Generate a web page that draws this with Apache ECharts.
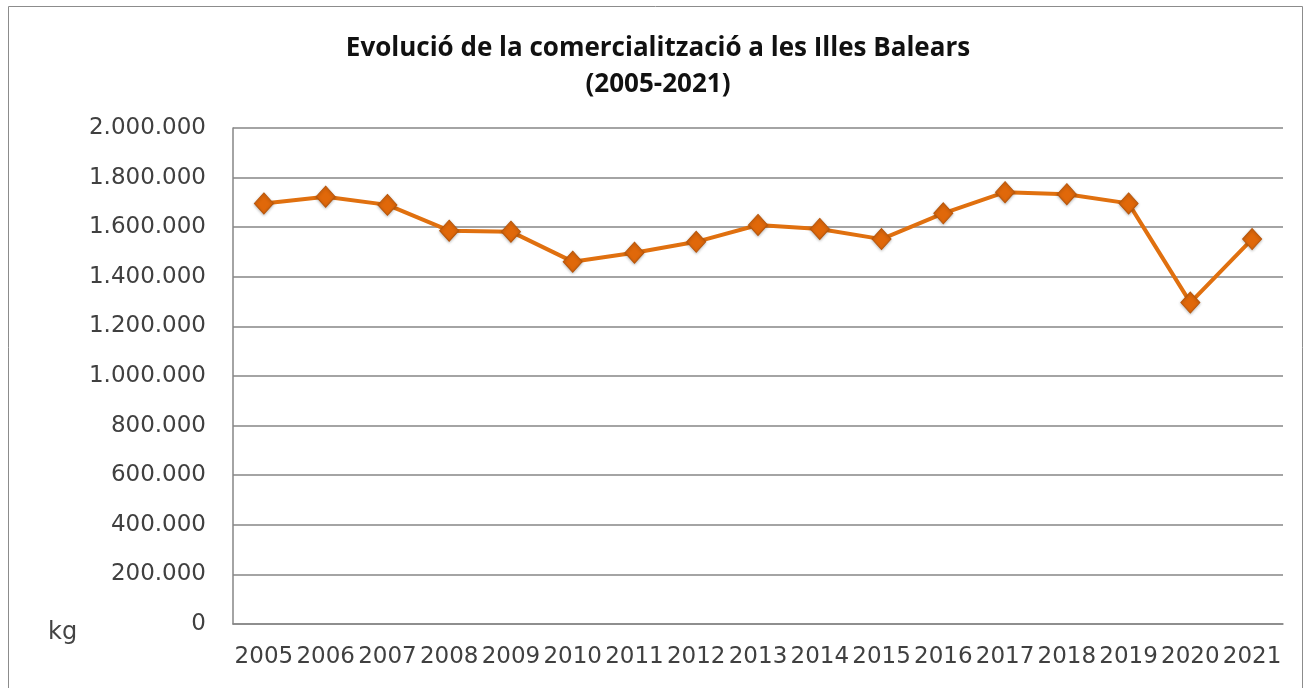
<!DOCTYPE html>
<html>
<head>
  <meta charset="UTF-8">
  <title>Evolució de la comercialització a les Illes Balears</title>
  <style>
    html, body { margin: 0; padding: 0; background: #fff; }
    #chart { width: 1305px; height: 688px; }
  </style>
  <script src="https://cdn.jsdelivr.net/npm/echarts@6/dist/echarts.min.js"></script>
</head>
<body>
<div id="chart"></div>
<script>
  // dades llegides del gràfic
  var years = ['2005', '2006', '2007', '2008', '2009', '2010', '2011', '2012', '2013',
    '2014', '2015', '2016', '2017', '2018', '2019', '2020', '2021'];
  var kg = [1696000, 1723000, 1690000, 1586000, 1582000, 1461000, 1497000, 1541000, 1609000,
    1593000, 1552000, 1656000, 1741000, 1733000, 1696000, 1296000, 1552000];
  var titleLines = ['Evolució de la comercialització a les Illes Balears', '(2005-2021)'];
  var unitLabel = 'kg';

  var myChart = echarts.init(document.getElementById('chart'));
  var font = 'DejaVu Sans';

  function fmt(v) {
    return String(v).replace(/\B(?=(\d{3})+(?!\d))/g, '.');
  }

  var option = {
    backgroundColor: '#fff',
    title: {
      text: titleLines.join('\n'),
      left: 653,
      textAlign: 'center',
      top: 26,
      textStyle: {
        fontFamily: 'Open Sans',
        fontWeight: 'bold',
        fontSize: 26,
        lineHeight: 36,
        color: '#111'
      }
    },
    graphic: [{
      type: 'rect',
      shape: { x: 8.5, y: 6.5, width: 1294, height: 700 },
      style: { fill: 'none', stroke: '#8c8c8c', lineWidth: 1 },
      silent: true
    }, {
      type: 'text',
      left: 48,
      top: 621,
      style: { text: unitLabel, fontFamily: font, fontSize: 24, fill: '#444' }
    }],
    grid: {
      left: 233,
      right: 22,
      top: 128,
      bottom: 64
    },
    xAxis: {
      type: 'category',
      data: years,
      boundaryGap: true,
      axisLine: { show: true, lineStyle: { color: '#868686', width: 1.5 } },
      axisTick: { show: false },
      axisLabel: {
        margin: 22,
        interval: 0,
        fontFamily: font,
        fontSize: 23,
        color: '#404040'
      }
    },
    yAxis: {
      type: 'value',
      min: 0,
      max: 2000000,
      interval: 200000,
      axisLine: { show: true, lineStyle: { color: '#868686', width: 1.5 } },
      axisTick: { show: false },
      splitLine: { lineStyle: { color: '#868686', width: 1.5 } },
      axisLabel: {
        margin: 27,
        fontFamily: font,
        fontSize: 23,
        color: '#404040',
        formatter: fmt
      }
    },
    series: [{
      type: 'line',
      data: kg,
      symbol: 'diamond',
      symbolSize: [19, 21],
      lineStyle: { color: '#E0700F', width: 4 },
      itemStyle: {
        color: '#E0680A',
        borderColor: '#B8570C',
        borderWidth: 1,
        shadowColor: 'rgba(0,0,0,0.25)',
        shadowBlur: 3,
        shadowOffsetY: 1
      },
      animation: false
    }]
  };
  myChart.setOption(option);
</script>
</body>
</html>
